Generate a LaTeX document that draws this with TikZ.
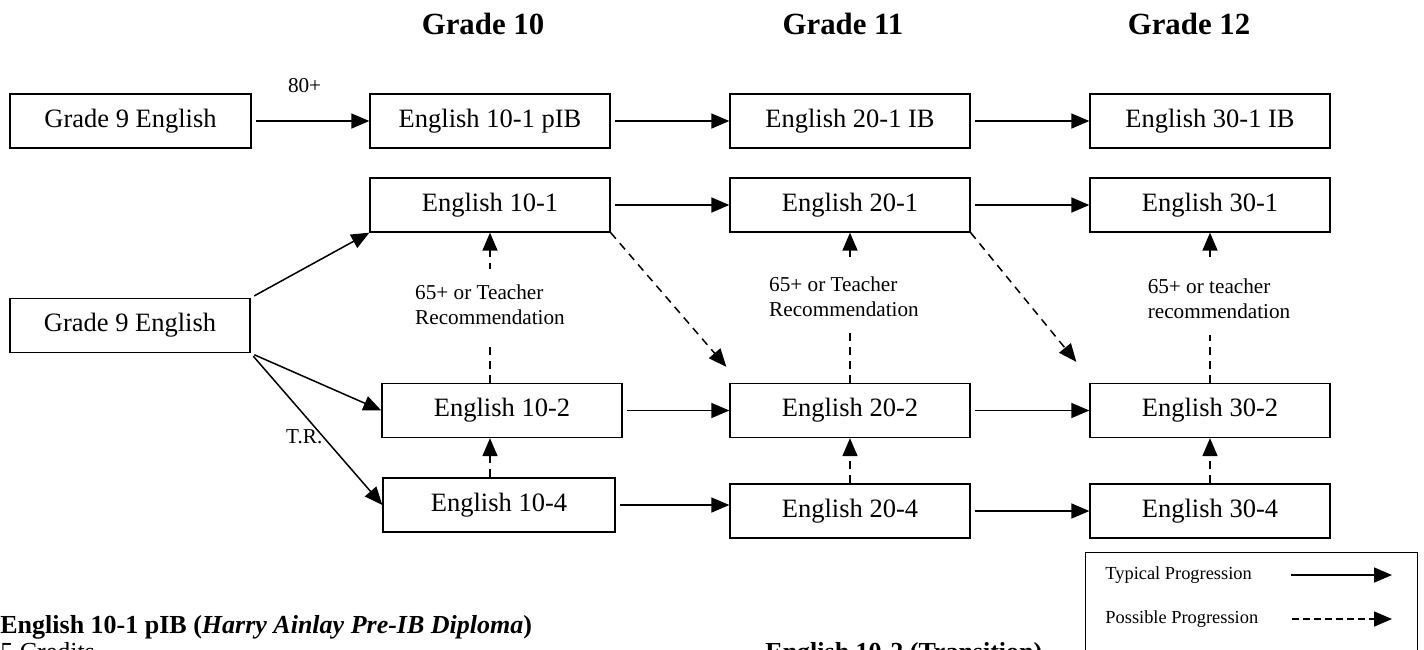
\documentclass[tikz,border=0pt]{standalone}
\usepackage{fontspec}
\setmainfont{Liberation Serif}
\usetikzlibrary{arrows.meta}

\begin{document}
\begin{tikzpicture}[x=0.5pt, y=-0.5pt,
    course/.style={draw=black, line width=0.65pt, minimum width=120pt, minimum height=27pt, inner sep=0pt, font=\fontsize{13.25}{16}\selectfont},
    grade/.style={inner sep=0pt, font=\fontsize{15.4}{18}\selectfont\bfseries},
    typical/.style={draw=black, line width=0.75pt, -{Triangle[length=9pt, width=7.5pt]}, shorten <=2pt},
    possible/.style={typical, dash pattern=on 4pt off 3pt},
    rule/.style={fill=white, align=left, inner xsep=1pt, inner ysep=8pt, font=\fontsize{10.6}{12.5}\selectfont},
    small/.style={inner sep=0pt, font=\fontsize{10.6}{12.5}\selectfont},
    keytext/.style={inner sep=0pt, anchor=west, font=\fontsize{9.2}{11}\selectfont},
    notes/.style={inner sep=0pt, anchor=base west, font=\fontsize{13}{15}\selectfont}
]
    \useasboundingbox (0,0) rectangle (1424,649);

    \node[grade] (head10) at (483,24) {Grade 10};
    \node[grade] (head11) at (843,24) {Grade 11};
    \node[grade] (head12) at (1189,24) {Grade 12};

    \node[course, minimum width=120.5pt] (g9top) at (130.5,121) {Grade 9 English};
    \node[course] (p101) at (490,121) {English 10-1 pIB};
    \node[course] (ib201) at (850,121) {English 20-1 IB};
    \node[course] (ib301) at (1210,121) {English 30-1 IB};

    \node[course] (e101) at (490,205) {English 10-1};
    \node[course] (e201) at (850,205) {English 20-1};
    \node[course] (e301) at (1210,205) {English 30-1};

    \node[course] (g9mid) at (130,325.5) {Grade 9 English};

    \node[course] (e102) at (502,410.5) {English 10-2};
    \node[course] (e202) at (850,410.5) {English 20-2};
    \node[course] (e302) at (1210,410.5) {English 30-2};

    \node[course, minimum width=116pt] (e104) at (499,505) {English 10-4};
    \node[course] (e204) at (850,511) {English 20-4};
    \node[course] (e304) at (1210,511) {English 30-4};

    \path[typical] (g9top) -- node[small, pos=0.45, above=14pt] (eighty) {80+} (p101);
    \path[typical] (p101) -- (ib201);
    \path[typical] (ib201) -- (ib301);

    \path[typical] (e101) -- (e201);
    \path[typical] (e201) -- (e301);
    \path[typical] (g9mid.north east) -- (e101.south west);
    \path[typical] (g9mid.south east) -- (e102.west);
    \path[typical] (g9mid.south east) -- node[small, pos=0.55, left] (tr) {T.R.} (e104.west);

    \path[typical] (e102) -- (e202);
    \path[typical] (e202) -- (e302);
    \path[typical] (e104.east) -- (e104.east -| e204.west);
    \path[typical] (e204) -- (e304);

    \path[possible, shorten <=0pt] (e102.north -| e101.south) -- node[rule, pos=0.52] (rule10) {65+ or Teacher\\Recommendation} (e101.south);
    \path[possible, shorten <=0pt] (e202.north) -- node[rule, pos=0.57, xshift=-3pt] (rule20) {65+ or Teacher\\Recommendation} (e201.south);
    \path[possible, shorten <=0pt] (e302.north) -- node[rule, pos=0.56, xshift=4.5pt] (rule30) {65+ or teacher\\recommendation} (e301.south);

    \path[possible, shorten <=0pt] (e101.south east) -- ([shift={(-3,-16)}]e202.north west);
    \path[possible, shorten <=0pt] (e201.south east) -- ([shift={(-13,-21)}]e302.north west);

    \path[possible, shorten <=0pt] (e104.north -| e101.south) -- (e102.south -| e101.south);
    \path[possible, shorten <=0pt] (e204.north) -- (e202.south);
    \path[possible, shorten <=0pt] (e304.north) -- (e302.south);

    \node[draw=black, line width=0.65pt, anchor=north west, minimum width=166pt, minimum height=75pt, inner sep=0pt] (legend) at (1085,552) {};
    \node[keytext] (typtext) at (1105,575) {Typical Progression};
    \node[keytext] (postext) at (1105,619) {Possible Progression};
    \coordinate (typstart) at (1291,575);
    \coordinate (typend) at (1392,575);
    \coordinate (posstart) at (1292,619);
    \coordinate (posend) at (1392,619);
    \path[typical, shorten <=0pt] (typstart) -- (typend);
    \path[possible, shorten <=0pt, dash pattern=on 3.5pt off 2pt] (posstart) -- (posend);

    \node[notes] (title101) at (0,633) {\bfseries English 10-1 pIB (\textit{Harry Ainlay Pre-IB Diploma})};
    \node[notes] (credits) at (0,660) {5 Credits};
    \node[notes] (title102) at (765,660) {\bfseries English 10-2 (Transition)};

\end{tikzpicture}
\end{document}
